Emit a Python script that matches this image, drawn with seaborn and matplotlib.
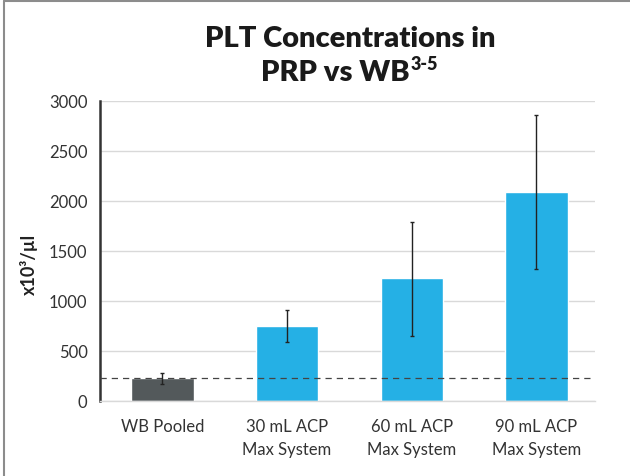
import matplotlib
matplotlib.use("Agg")
import matplotlib.pyplot as plt
import seaborn as sns
import pandas as pd
from matplotlib.lines import Line2D

categories = ["WB Pooled", "30 mL ACP\nMax System", "60 mL ACP\nMax System", "90 mL ACP\nMax System"]
values = [228, 750, 1230, 2095]
err_low = [60, 163, 577, 775]
err_high = [55, 160, 557, 770]
baseline = 228
bar_colors = ["#53595b", "#25b0e5", "#25b0e5", "#25b0e5"]
yticks = [0, 500, 1000, 1500, 2000, 2500, 3000]

sns.set_theme(style="white")
plt.rcParams['font.family'] = ['Lato', 'DejaVu Sans']

fig = plt.figure(figsize=(6.3, 4.77), dpi=100)
ax = fig.add_axes([100/630, 75/477, 495/630, 300/477])

df = pd.DataFrame({"cat": categories, "val": values})
sns.barplot(data=df, x="cat", y="val", hue="cat", palette=bar_colors,
            width=0.5, ax=ax, legend=False, saturation=1)

ax.errorbar(range(len(values)), values, yerr=[err_low, err_high], fmt="none",
            ecolor="#222222", elinewidth=1.0, capsize=1.5, capthick=1.0, zorder=5)

ax.axhline(baseline, color="#444444", linestyle=(0, (5, 4)), linewidth=0.9, zorder=4)

ax.set_xlim(-0.5, 3.47)
ax.set_ylim(0, 3000)
ax.set_yticks(yticks)
ax.set_yticklabels([str(t) for t in yticks], fontsize=12, color="#333333")
ax.set_xticks(range(len(categories)))
ax.set_xticklabels(categories, fontsize=12, color="#333333", linespacing=1.55)
ax.tick_params(axis="x", length=0, pad=12)
ax.tick_params(axis="y", length=0, pad=9)
ax.yaxis.grid(True, color="#d9d9d9", linewidth=1.0)
ax.set_axisbelow(True)
for s in ["top", "right"]:
    ax.spines[s].set_visible(False)
ax.spines["bottom"].set_color("#d9d9d9")
ax.spines["bottom"].set_linewidth(1.0)
ax.spines["left"].set_color("#333333")
ax.spines["left"].set_linewidth(1.8)
ax.set_xlabel("")
ax.set_ylabel("x10³/µl", fontsize=13, fontweight="bold", color="#222222")
ax.yaxis.set_label_coords(-0.125, 0.457)

# Title
fig.text(350/630, 1 - 39/477, "PLT Concentrations in", ha="center", va="center",
         fontsize=21, fontweight="heavy", color="#1a1a1a")
fig.canvas.draw()
r = fig.canvas.get_renderer()
t2 = fig.text(0, 1 - 73/477, "PRP vs WB", ha="left", va="center",
              fontsize=21, fontweight="heavy", color="#1a1a1a")
bb = t2.get_window_extent(r)
sup = fig.text(0, 0, "3-5", ha="left", va="center", fontsize=13, fontweight="heavy", color="#1a1a1a")
bs = sup.get_window_extent(r)
total = bb.width + 1 + bs.width
x0 = 350 - total / 2
t2.set_x(x0 / 630)
sup.set_x((x0 + bb.width + 1) / 630)
sup.set_y(1 - 65/477)

# frame lines
fig.add_artist(Line2D([4/630, 4/630], [0, 1 - 2/477], transform=fig.transFigure, color="#8c8c8c", linewidth=1.5))
fig.add_artist(Line2D([4/630, 1], [1 - 2/477, 1 - 2/477], transform=fig.transFigure, color="#8c8c8c", linewidth=1.5))

fig.savefig("out.png", dpi=100)
